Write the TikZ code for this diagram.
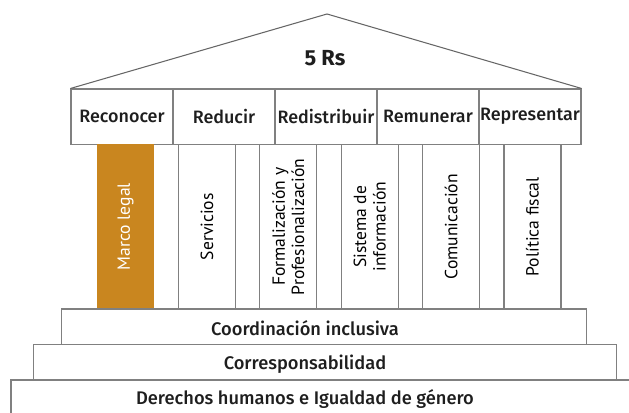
\documentclass[tikz,border=0pt]{standalone}
\usepackage{fontspec}
\setmainfont{Fira Sans}[BoldFont={Fira Sans Medium}]
\newfontfamily\titlefont{Fira Sans Bold}
\newfontfamily\pillarfont{PT Sans}
\usetikzlibrary{positioning}

\begin{document}
\begin{tikzpicture}[
    rbox/.style={draw=linegray, line width=0.6pt, minimum width=2.04cm, minimum height=1.11cm, inner sep=0pt, text=textdark, font=\fontsize{10.2}{12}\selectfont\bfseries},
    pillar/.style={draw=linegray, line width=0.6pt, minimum width=3.29cm, minimum height=1.14cm, inner sep=0pt, rotate=90, align=center, text=black, font=\pillarfont\fontsize{10}{11}\selectfont},
    stepbox/.style={draw=linegray, line width=0.6pt, inner sep=0pt},
    steptext/.style={text=textdark, font=\fontsize{10.4}{12}\selectfont\bfseries}
  ]
  % Colors
  \definecolor{linegray}{RGB}{128,128,128}
  \definecolor{textdark}{RGB}{30,30,30}
  \definecolor{legalorange}{RGB}{201,134,31}

  % Canvas
  \useasboundingbox (0,0) rectangle (12.58,8.26);
  \clip (0,0) rectangle (12.58,8.26);

  % The five Rs
  \foreach \i/\x/\label in {1/2.44/Reconocer,2/4.48/Reducir,3/6.52/Redistribuir,4/8.56/Remunerar,5/10.60/Representar}
    \node[rbox] (r\i) at (\x,5.925) {\label};

  % Roof
  \coordinate (apex) at (6.54,7.98);
  \draw[draw=linegray!80!black, line width=0.6pt] (r1.north west) -- (apex) -- (r5.north east);
  \node[font=\titlefont\fontsize{12.4}{14}\selectfont, text=textdark] (title) at (6.50,7.10) {5 Rs};

  % Pillars
  \node[pillar, draw=none, fill=legalorange, text=white] (p1) at (2.51,3.725) {Marco legal};
  \node[pillar] (p2) at (4.138,3.725) {Servicios};
  \node[pillar] (p3) at (5.766,3.725) {Formalización y\\Profesionalización};
  \node[pillar] (p4) at (7.394,3.725) {Sistema de\\información};
  \node[pillar] (p5) at (9.022,3.725) {Comunicación};
  \node[pillar] (p6) at (10.65,3.725) {Política fiscal};

  % Steps
  \node[stepbox, minimum width=10.5cm, minimum height=0.706cm] (s1) at (6.484,1.727) {};
  \node[stepbox, minimum width=11.668cm, minimum height=0.714cm] (s2) at (6.50,1.017) {};
  \node[stepbox, minimum width=12.78cm, minimum height=0.96cm] (s3) at (6.61,0.18) {};
  \node[steptext] (t1) at (6.10,1.70) {Coordinación inclusiva};
  \node[steptext] (t2) at (6.10,0.98) {Corresponsabilidad};
  \node[steptext] (t3) at (6.10,0.28) {Derechos humanos e Igualdad de género};

\end{tikzpicture}
\end{document}
